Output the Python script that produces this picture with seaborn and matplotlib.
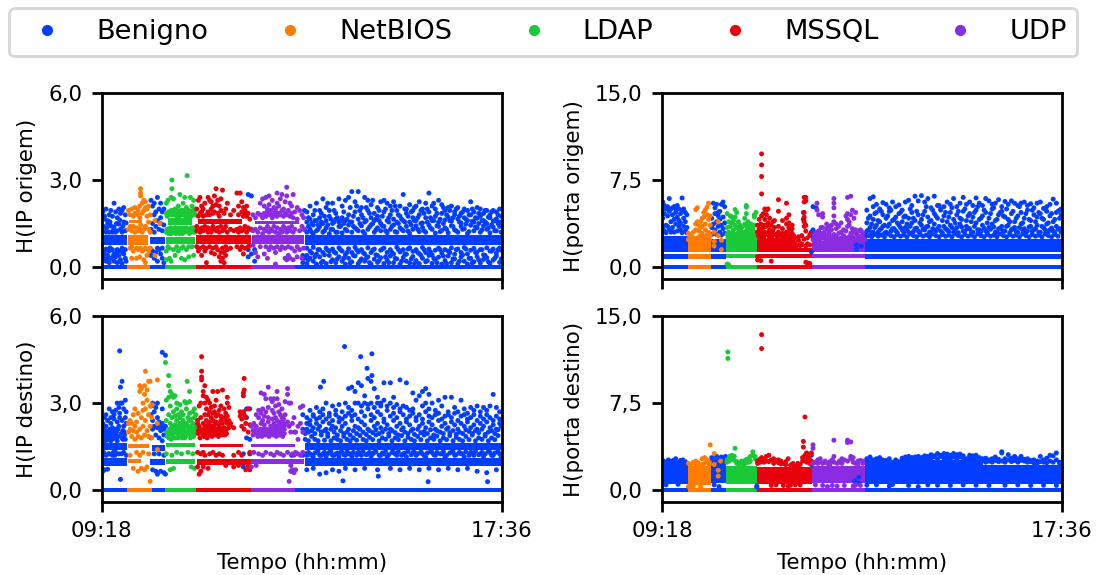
import pandas as pd
import seaborn as sns
from matplotlib import pyplot as plt
from matplotlib.lines import Line2D

classes = ['Benigno', 'NetBIOS', 'LDAP', 'MSSQL', 'UDP']
palette = dict(zip(classes, ['#023eff', '#ff7c00', '#1ac938', '#e8000b', '#8b2be2']))

xtick_vals = [0, 498]
xtick_labels = ['09:18', '17:36']
ip_ticks = [0, 3, 6]
ip_labels = ['0,0', '3,0', '6,0']
port_ticks = [0, 7.5, 15]
port_labels = ['0,0', '7,5', '15,0']

# dense rows: class, start min, end min, low, high
ipo_bands = [
    ('Benigno', 0, 31, -.06, .06), ('NetBIOS', 31, 60, -.06, .06), ('Benigno', 60, 79, -.06, .06),
    ('LDAP', 79, 117, -.06, .06), ('MSSQL', 117, 185, -.06, .06), ('UDP', 185, 240, -.06, .06),
    ('Benigno', 240, 498, -.06, .06),
    ('Benigno', 0, 31, .75, 1.1), ('NetBIOS', 32, 57, .75, 1.1), ('Benigno', 60, 79, .78, 1.05),
    ('LDAP', 80, 116, .8, 1.05), ('MSSQL', 117, 185, .8, 1.1), ('UDP', 187, 252, .8, 1.1),
    ('Benigno', 253, 498, .75, 1.1),
    ('NetBIOS', 33, 50, 1.52, 1.63), ('LDAP', 82, 112, 1.45, 1.7), ('MSSQL', 119, 174, 1.5, 1.65),
    ('UDP', 190, 245, 1.47, 1.58),
]
ipd_bands = [
    ('Benigno', 0, 31, -.06, .06), ('NetBIOS', 31, 62, -.06, .06), ('Benigno', 62, 79, -.06, .06),
    ('LDAP', 79, 117, -.06, .06), ('MSSQL', 117, 185, -.06, .06), ('UDP', 185, 240, -.06, .06),
    ('Benigno', 240, 498, -.06, .06),
    ('Benigno', 0, 31, .82, 1.1), ('NetBIOS', 32, 48, .92, 1.06), ('Benigno', 60, 79, .85, 1.08),
    ('LDAP', 80, 116, .9, 1.06), ('MSSQL', 118, 185, .87, 1.08), ('UDP', 186, 252, .9, 1.06),
    ('Benigno', 253, 498, .82, 1.1),
    ('Benigno', 0, 31, 1.4, 1.62), ('NetBIOS', 32, 58, 1.45, 1.6), ('Benigno', 62, 78, 1.35, 1.55),
    ('LDAP', 80, 116, 1.47, 1.63), ('MSSQL', 122, 176, 1.47, 1.6), ('UDP', 186, 240, 1.47, 1.58),
    ('Benigno', 253, 498, 1.38, 1.62),
]
ppo_bands = [
    ('Benigno', 0, 32, -.15, .15), ('NetBIOS', 32, 61, -.15, .15), ('Benigno', 61, 80, -.15, .15),
    ('LDAP', 80, 118, -.15, .15), ('MSSQL', 118, 187, -.15, .15), ('UDP', 187, 253, -.15, .15),
    ('Benigno', 253, 498, -.15, .15),
    ('Benigno', 0, 32, .65, 1.1), ('NetBIOS', 32, 61, .7, 1.1), ('Benigno', 61, 80, .7, 1.1),
    ('LDAP', 80, 118, .75, 1.1), ('MSSQL', 118, 187, .8, 1.1), ('UDP', 187, 253, .75, 1.1),
    ('Benigno', 253, 498, .65, 1.1),
    ('Benigno', 0, 32, 1.3, 2.7), ('NetBIOS', 32, 61, 1.3, 2.2), ('Benigno', 61, 80, 1.3, 2.4),
    ('LDAP', 80, 118, 1.3, 2.3), ('MSSQL', 118, 165, 1.3, 2.5), ('MSSQL', 165, 187, 1.3, 1.65),
    ('UDP', 187, 253, 1.3, 2.2), ('Benigno', 253, 498, 1.3, 2.45),
]
ppd_bands = [
    ('Benigno', 0, 32, -.15, .15), ('NetBIOS', 32, 61, -.15, .15), ('Benigno', 61, 80, -.15, .15),
    ('LDAP', 80, 118, -.15, .15), ('MSSQL', 118, 187, -.15, .15), ('UDP', 187, 253, -.15, .15),
    ('Benigno', 253, 498, -.15, .15),
    ('Benigno', 0, 32, .55, 2.25), ('NetBIOS', 32, 61, .45, 2.05), ('Benigno', 61, 80, .6, 2.3),
    ('LDAP', 80, 118, .55, 2.1), ('MSSQL', 118, 187, .55, 2.0), ('UDP', 187, 253, .6, 2.05),
    ('Benigno', 253, 300, .55, 2.3), ('Benigno', 300, 400, .55, 2.6), ('Benigno', 400, 498, .55, 2.2),
]

# scattered points, minute: values
ipo_ben = {
    1: [.3, 1.25, 1.9], 3: [.5, 1.65, 1.75], 5: [.2, .62, 1.2, 2.0], 7: [.4, 1.5, 1.6], 9: [.15, .55, 1.2, 1.8],
    11: [.3, 1.42, 1.95], 13: [.6, 1.2, 1.75], 15: [.2, .45, 1.38, 2.2], 17: [.35, 1.2, 1.9], 19: [.15, .6, 1.25, 1.7],
    21: [.4, 1.48, 2.0], 23: [.25, .55, 1.3, 1.85], 25: [.12, .65, 1.2, 1.95], 27: [.45, 1.55, 2.05], 29: [.3, .6, 1.25, 1.8],
    2: [1.4, .42], 6: [1.35, .28], 10: [1.55, .66], 14: [1.28, .38], 18: [1.5, .5], 22: [1.62, .2], 26: [1.4, .5], 30: [1.52, .2],
    61: [.4, .6, 1.3, 2.3], 63: [.55, 1.5, 2.1], 65: [.3, 1.2, 1.8, 2.2], 67: [.5, 1.4, 1.9], 69: [.2, .65, 1.6, 2.4],
    71: [.6, 1.3, 2.0], 73: [.45, 1.5, 1.7, 2.2], 75: [.3, .65, 1.25, 1.9], 77: [.15, 1.45, 2.0], 182: [.35, .6, 2.5],
    186: [.45, 1.3, 2.45], 190: [.6, .2], 250: [.15, .4], 252: [.3, 1.3, 1.95],
    255: [.12, .4, .65, 1.2, 1.55, 1.9], 259: [.3, .55, 1.3, 1.65, 2.1], 263: [.2, .68, 1.15, 1.45, 1.8],
    267: [.1, .45, 1.25, 1.6, 2.2], 271: [.35, .6, 1.4, 1.7, 1.95], 275: [.2, .5, 1.2, 1.5, 2.35],
    279: [.12, .65, 1.35, 1.6, 2.05], 283: [.4, .55, 1.15, 1.75, 1.95], 287: [.25, .62, 1.3, 1.5, 2.2],
    291: [.15, .48, 1.2, 1.65, 1.85], 295: [.35, .66, 1.4, 1.55, 2.35], 299: [.2, .55, 1.18, 1.7, 2.1],
    303: [.1, .42, 1.3, 1.6, 2.3], 307: [.3, .63, 1.45, 1.8, 2.4], 311: [.18, .5, 1.2, 1.55, 2.6],
    315: [.38, .68, 1.35, 1.9, 2.25], 319: [.12, .52, 1.25, 1.65, 2.6], 323: [.28, .6, 1.42, 1.8, 2.05],
    327: [.2, .45, 1.15, 1.55, 2.4], 331: [.35, .66, 1.3, 1.95, 2.3], 335: [.1, .5, 1.45, 1.7, 2.15],
    339: [.27, .62, 1.2, 1.6, 1.85], 343: [.16, .4, 1.35, 1.75, 2.05], 347: [.32, .58, 1.25, 1.5, 2.25],
    351: [.12, .65, 1.4, 1.9, 2.3], 355: [.24, .5, 1.18, 1.6, 2.2], 359: [.38, .6, 1.3, 1.8, 2.1],
    363: [.15, .45, 1.45, 1.65, 2.25], 367: [.28, .68, 1.2, 1.55, 1.95], 371: [.1, .52, 1.35, 1.75, 2.1],
    375: [.33, .6, 1.25, 1.6, 2.5], 379: [.2, .44, 1.4, 1.85, 2.0], 383: [.14, .66, 1.16, 1.55, 2.15],
    387: [.36, .54, 1.3, 1.7, 1.95], 391: [.22, .6, 1.42, 1.6, 2.1], 395: [.12, .46, 1.22, 1.8, 2.25],
    399: [.3, .67, 1.36, 1.52, 2.0], 403: [.18, .5, 1.2, 1.7, 2.2], 407: [.4, .62, 1.44, 1.9, 2.55],
    411: [.13, .42, 1.3, 1.6, 2.1], 415: [.26, .58, 1.17, 1.75, 2.0], 419: [.34, .65, 1.4, 1.55, 2.3],
    423: [.1, .48, 1.26, 1.85, 2.15], 427: [.22, .6, 1.35, 1.62, 1.95], 431: [.38, .55, 1.18, 1.72, 2.05],
    435: [.15, .66, 1.42, 1.58, 2.1], 439: [.28, .44, 1.28, 1.8, 1.9], 443: [.12, .62, 1.2, 1.65, 2.05],
    447: [.35, .5, 1.4, 1.52, 1.85], 451: [.2, .67, 1.32, 1.7, 2.0], 455: [.1, .45, 1.16, 1.6, 1.95],
    459: [.3, .58, 1.44, 1.8, 2.25], 463: [.18, .64, 1.25, 1.55, 1.9], 467: [.36, .52, 1.35, 1.68, 2.05],
    471: [.14, .6, 1.2, 1.75, 2.0], 475: [.26, .42, 1.42, 1.6, 1.85], 479: [.32, .66, 1.3, 1.5, 1.95],
    483: [.12, .55, 1.18, 1.7, 1.8], 487: [.24, .62, 1.38, 1.58, 1.95], 491: [.38, .48, 1.25, 1.66, 1.9],
    495: [.16, .65, 1.4, 1.55, 2.0], 497: [.28, .58, 1.2, 1.75],
    257: [.25, 1.4, 1.7], 261: [.48, 1.2, 1.5], 265: [.35, 1.6, 1.95], 269: [.6, 1.3, 1.45], 273: [.15, 1.55, 1.85],
    277: [.42, 1.25, 1.75], 281: [.58, 1.45, 2.2], 285: [.18, 1.3, 1.65], 289: [.52, 1.55, 1.95], 293: [.28, 1.2, 1.7],
    297: [.6, 1.4, 1.6], 301: [.3, 1.5, 1.9], 305: [.5, 1.25, 1.65], 309: [.14, 1.55, 2.05], 313: [.4, 1.4, 1.75],
    317: [.6, 1.3, 2.1], 321: [.2, 1.5, 1.95], 325: [.5, 1.22, 1.7], 329: [.3, 1.6, 2.05], 333: [.15, 1.38, 1.85],
    337: [.58, 1.5, 2.3], 341: [.42, 1.28, 1.65], 345: [.22, 1.6, 1.95], 349: [.62, 1.42, 1.75], 353: [.35, 1.25, 2.0],
    357: [.15, 1.55, 1.7], 361: [.5, 1.4, 1.95], 365: [.3, 1.22, 2.1], 369: [.6, 1.5, 1.8], 373: [.2, 1.3, 1.65],
    377: [.45, 1.55, 2.0], 381: [.62, 1.24, 1.75], 385: [.28, 1.45, 1.9], 389: [.12, 1.6, 2.05], 393: [.5, 1.3, 1.7],
    397: [.4, 1.5, 1.95], 401: [.6, 1.25, 1.85], 405: [.22, 1.55, 2.0], 409: [.52, 1.35, 1.7], 413: [.3, 1.6, 2.2],
    417: [.15, 1.42, 1.85], 421: [.6, 1.22, 1.65], 425: [.38, 1.5, 2.05], 429: [.12, 1.3, 1.8], 433: [.5, 1.6, 1.95],
    437: [.28, 1.4, 1.7], 441: [.6, 1.25, 2.0], 445: [.2, 1.55, 1.75], 449: [.42, 1.3, 1.9], 453: [.62, 1.48, 1.65],
    457: [.3, 1.22, 1.8], 461: [.14, 1.58, 2.0], 465: [.5, 1.38, 1.7], 469: [.25, 1.5, 1.85], 473: [.6, 1.28, 1.6],
    477: [.4, 1.55, 1.95], 481: [.18, 1.35, 1.72], 485: [.55, 1.45, 1.9], 489: [.3, 1.25, 1.6], 493: [.6, 1.5, 1.8],
}
ipo_net = {
    33: [1.3, 1.95], 35: [.65, 1.4, 1.8], 37: [.3, .7, 1.25, 2.0], 39: [.55, 1.4, 1.75], 41: [1.2, 1.85, 2.05],
    43: [.3, .65, 1.35], 45: [.6, 1.25, 1.8, 1.95], 47: [.35, 1.3, 1.7, 2.1], 48: [.65, 1.45, 2.45, 2.55, 2.7],
    50: [.55, 1.2, 1.85, 2.2], 52: [.25, .6, 1.3, 1.95, 2.3], 54: [.15, .65, 1.4, 2.05, 2.25], 56: [.4, 1.75, 2.0],
    58: [.55, 1.3, 1.55, 2.1], 60: [.65, 1.2, 1.8], 66: [.4, 1.6], 72: [1.5],
}
ipo_lda = {
    80: [.25, .55, 1.2, 1.85, 2.2], 82: [.7, 1.3, 1.8, 2.3], 84: [.3, .65, 1.25, 1.9], 86: [.2, 1.15, 1.35, 1.95, 2.4],
    87: [3.0, 2.7, 1.85], 89: [.6, 1.2, 1.3, 1.8, 2.35], 91: [.4, 1.35, 1.85, 2.0], 93: [.7, 1.2, 1.75, 1.95],
    95: [.55, 1.3, 1.8, 2.1], 97: [1.15, 1.35, 1.9, 2.5], 99: [.3, .65, 1.25, 1.85], 101: [.7, 1.3, 1.95, 2.2],
    103: [.25, 1.2, 1.8, 2.4], 105: [.6, 1.35, 1.9, 2.05], 106: [3.15, 1.25, 1.75], 108: [.35, .7, 1.2, 1.95],
    110: [1.3, 1.8, 2.4], 112: [.7, 1.25, 1.9, 2.1], 114: [.4, 1.35, 1.85, 2.3], 116: [1.2, 1.8, 2.0],
    81: [1.3, 1.75], 83: [1.15, 1.9], 85: [1.35, 1.8], 88: [1.2, 1.95], 90: [1.3, 1.85], 92: [1.15, 1.35], 94: [1.25, 1.85],
    96: [1.2, 1.75], 98: [1.3, 1.95], 100: [1.15, 1.8], 102: [1.35, 1.9], 104: [1.25, 1.75], 107: [1.3, 1.85], 109: [1.15, 1.9],
    111: [1.35, 1.75], 113: [1.2, 1.95], 115: [1.3, 1.85],
}
ipo_mss = {
    118: [.7, 1.25, 1.4, 2.0], 120: [.55, 1.3, 1.75, 2.3], 122: [.65, 1.2, 1.85, 2.4], 124: [.4, 1.35, 1.9, 2.1],
    126: [.7, 1.25, 1.75, 2.0], 128: [.55, 1.4, 2.2], 130: [.15, .65, 1.3, 1.8], 132: [1.2, 1.35, 1.9, 2.4],
    134: [.7, 1.3, 1.8, 2.3], 136: [.5, 1.2, 2.0, 2.25], 138: [.65, 1.4, 1.85, 2.1], 140: [.45, 1.3, 1.9, 2.45],
    142: [.7, 1.25, 2.15, 2.7], 144: [.6, 1.35, 1.85, 2.3], 146: [.35, 1.2, 1.75, 2.1], 148: [.5, .2, 1.4, 1.95, 2.35],
    150: [.3, .65, 1.25, 2.65], 152: [.15, .5, 1.3, 1.85], 154: [.4, .7, 1.4, 2.0], 156: [.6, 1.2, 2.2],
    160: [.65, 1.3, 1.8], 164: [1.25, 1.95], 168: [.7, 1.3, 2.55], 170: [1.2, 1.8, 2.1], 172: [.6, 1.35, 2.55],
    174: [.7, 1.25, 1.9, 2.25], 176: [.45, 1.3, 1.75, 2.05], 178: [.65, 1.4, 1.8, 1.95], 180: [1.2, 1.75, 2.1],
    182: [.7, 1.35, 1.85], 184: [.75, 1.3, 1.65],
}
ipo_udp = {
    188: [.75, 1.25, 1.8], 191: [.5, 1.3, 1.7], 194: [.35, 1.2, 1.85], 197: [.7, 1.35, 1.8, 2.2], 200: [1.15, 1.7, 2.35],
    202: [.45, 1.3, 1.85, 2.1], 204: [.7, 1.25, 1.75, 2.4], 206: [.3, 1.4, 1.9, 2.0], 208: [.6, 1.2, 1.8, 2.15, 2.45],
    210: [.7, 1.3, 1.95], 212: [1.25, 1.7, 1.85, 2.3], 214: [.65, 1.4, 1.8, 2.05], 216: [.1, .5, 1.2, 1.9, 2.0],
    218: [.7, 1.35, 1.75, 2.2, 2.55], 220: [1.15, 1.85, 2.1], 222: [.6, 1.3, 1.8, 2.35], 224: [.7, 1.2, 1.95, 2.5],
    226: [1.4, 1.75, 2.0], 228: [.3, .65, 1.3, 1.85, 2.25], 230: [.25, 1.2, 1.8, 2.45, 2.75], 232: [.4, .7, 1.35, 1.95],
    234: [.3, 1.25, 1.75, 2.2], 236: [.65, 1.4, 1.85, 2.1], 238: [.25, 1.2, 1.7, 2.5], 240: [.55, 1.3, 1.9],
    243: [.35, .7, 1.65, 2.05], 246: [.6, 1.25, 1.95], 249: [.3, 1.4, 1.8], 251: [.65, 1.3, 1.7],
}

ipd_ben = {
    1: [.65, 1.2, 1.8, 2.3], 3: [.7, 1.7, 2.1, 2.5], 5: [1.2, 2.2, 2.6], 7: [.72, 1.75, 2.4], 9: [1.25, 2.05, 2.8],
    11: [1.7, 2.3, 2.5], 13: [1.2, 2.15, 2.7], 15: [1.8, 2.45, 2.6], 17: [1.3, 2.1, 2.75], 19: [1.7, 2.35, 3.0],
    21: [1.25, 2.2, 2.85], 22: [4.8, 2.5, 2.65], 23: [3.55, .37, 3.0], 25: [3.75, 1.8, 2.4, 3.0], 27: [1.3, 2.2, 2.8],
    29: [1.75, 2.5, 3.1], 30: [1.2, 2.3, 2.7], 2: [1.95, 1.3], 4: [1.8, 2.0], 6: [1.9, 1.72], 8: [2.0, 1.25], 10: [1.85, 2.1], 12: [1.75, 1.95],
    14: [2.05, 1.3], 16: [1.9, 1.2], 18: [2.0, 1.75], 20: [1.85, 2.1], 24: [1.95, 1.25], 26: [2.05, 1.75], 28: [1.9, 2.0],
    61: [1.8, 2.6, 2.9], 63: [.7, 2.1, 2.4, 3.0], 65: [1.25, 2.7, 2.2], 67: [.65, 1.9, 2.85], 69: [.55, 2.15, 2.5, 3.0],
    71: [1.25, 1.8, 2.35], 73: [.65, 2.2, 2.05], 75: [4.75, 1.7, 2.3, 2.8], 77: [.6, 1.2, 2.1, 1.9], 79: [4.65, .55, 2.2],
    176: [.8, 1.25], 180: [1.8, 2.8, 2.5], 184: [1.25, 1.75, 2.8], 236: [1.2, .65], 240: [2.0, 1.25], 250: [2.1, 2.6, 1.2],
    272: [3.55], 276: [3.75], 302: [4.95], 317: [4.35, 4.2, 3.85], 322: [4.6], 330: [4.2], 336: [4.7, 3.95], 339: [5.7],
    344: [.48], 397: [4.75, 4.0], 300: [.32], 406: [.29], 480: [.29],
    255: [.7, 1.2, 2.1, 2.3, 2.5], 259: [1.25, 2.25, 2.4, 2.75], 263: [.75, 1.15, 2.15, 2.55, 2.6], 267: [1.3, 2.3, 2.45, 2.85],
    271: [.55, 1.2, 2.2, 2.5, 2.7], 275: [1.25, 2.35, 2.6, 2.8], 279: [.6, 1.15, 2.1, 2.45, 3.0], 283: [1.3, 2.3, 2.55, 2.65],
    287: [.7, 1.2, 2.2, 2.4, 2.9], 291: [1.25, 2.15, 2.6, 2.75], 295: [.65, 1.15, 2.35, 2.5, 2.95], 299: [1.3, 2.2, 2.45, 2.7],
    303: [.75, 1.2, 2.3, 2.55, 3.0], 307: [1.25, 2.1, 2.65, 2.85, 3.5], 311: [1.15, 2.4, 2.55, 2.75, 3.55], 315: [.7, 2.2, 2.6, 3.0, 3.4],
    319: [1.3, 2.15, 2.45, 3.0, 3.7], 323: [1.2, 2.35, 2.7, 2.9, 3.6], 327: [.75, 2.25, 2.55, 3.0, 3.25], 331: [1.25, 2.1, 2.8, 2.95, 3.85],
    335: [1.15, 2.4, 2.6, 3.0, 3.75], 339: [1.3, 2.2, 2.5, 2.85, 3.5], 343: [.7, 2.3, 2.7, 3.0, 3.2], 347: [1.2, 2.15, 2.6, 2.9, 3.0],
    351: [1.25, 2.35, 2.45, 3.1, 3.7], 355: [1.15, 2.25, 2.75, 2.9], 359: [.75, 2.1, 2.55, 3.0, 3.7], 363: [1.3, 2.4, 2.65, 2.85, 3.2],
    367: [1.2, 2.2, 2.5, 2.95], 371: [.7, 2.3, 2.7, 2.8, 3.8], 375: [1.25, 2.15, 2.6, 2.9], 379: [1.15, 2.35, 2.45, 2.85, 3.7],
    383: [.75, 2.25, 2.55, 2.75], 387: [1.3, 2.1, 2.65, 2.8, 3.35], 391: [1.2, 2.4, 2.5, 3.1], 395: [.7, 2.2, 2.6, 3.25],
    399: [1.25, 2.3, 2.45, 2.9, 3.4], 403: [1.15, 2.15, 2.7, 3.0, 3.5], 407: [.75, 2.35, 2.55, 2.8, 3.3], 411: [1.3, 2.25, 2.5, 3.0],
    415: [1.2, 2.1, 2.6, 2.75], 419: [.7, 2.4, 2.65, 3.1], 423: [1.25, 2.2, 2.45, 2.9], 427: [1.15, 2.3, 2.55, 3.2],
    431: [.75, 2.15, 2.6, 2.7], 435: [1.3, 2.35, 2.5, 3.2], 439: [1.2, 2.25, 2.65, 2.85], 443: [.7, 2.1, 2.4, 2.7],
    447: [1.25, 2.3, 2.55, 3.1], 451: [1.15, 2.2, 2.6, 2.8], 455: [.75, 2.35, 2.45, 2.65], 459: [1.3, 2.15, 2.5, 2.85],
    463: [1.2, 2.25, 2.6, 2.75], 467: [.65, 2.1, 2.4, 2.9], 471: [1.25, 2.3, 2.55, 2.7], 475: [1.15, 2.2, 2.45, 2.85],
    479: [.6, 2.35, 2.6, 2.75], 483: [1.3, 2.15, 2.5, 2.9], 487: [1.2, 2.25, 2.4, 3.3], 491: [.7, 2.1, 2.55, 2.85],
    495: [1.25, 2.3, 2.45, 2.7], 497: [1.15, 2.2, 2.4],
    253: [1.75, 1.95, 1.25], 257: [1.7, 2.0, 1.3], 261: [1.85, 2.05, 1.2], 265: [1.75, 1.95, 1.28], 269: [1.7, 2.1, 1.33],
    273: [1.9, 2.0, 1.2], 277: [1.72, 2.05, 1.3], 281: [1.85, 1.95, 1.25], 285: [1.7, 2.1, 1.32], 289: [1.8, 2.0, 1.2],
    293: [1.75, 1.9, 1.28], 297: [1.7, 2.05, 1.3], 301: [1.85, 1.95, 1.22], 305: [1.75, 2.0, 1.33], 309: [1.7, 1.9, 1.25],
    313: [1.8, 2.05, 1.3], 317: [1.72, 1.95, 1.2], 321: [1.88, 2.1, 1.28], 325: [1.75, 2.0, 1.33], 329: [1.7, 1.92, 1.22],
    333: [1.82, 2.05, 1.3], 337: [1.74, 1.98, 1.25], 341: [1.9, 2.08, 1.32], 345: [1.7, 1.95, 1.2], 349: [1.8, 2.0, 1.28],
    353: [1.75, 2.1, 1.33], 357: [1.86, 1.95, 1.22], 361: [1.7, 2.05, 1.3], 365: [1.8, 1.98, 1.25], 369: [1.74, 1.9, 1.32],
    373: [1.88, 2.08, 1.2], 377: [1.7, 2.0, 1.28], 381: [1.82, 1.95, 1.33], 385: [1.75, 2.05, 1.22], 389: [1.7, 1.92, 1.3],
    393: [1.85, 2.1, 1.25], 397: [1.74, 1.98, 1.32], 401: [1.9, 2.02, 1.2], 405: [1.7, 1.95, 1.28], 409: [1.8, 2.08, 1.33],
    413: [1.75, 1.9, 1.22], 417: [1.86, 2.05, 1.3], 421: [1.7, 2.0, 1.25], 425: [1.8, 1.95, 1.32], 429: [1.74, 2.1, 1.2],
    433: [1.88, 1.98, 1.28], 437: [1.7, 2.05, 1.33], 441: [1.82, 1.92, 1.22], 445: [1.75, 2.0, 1.3], 449: [1.7, 1.95, 1.25],
    453: [1.85, 2.08, 1.32], 457: [1.74, 2.02, 1.2], 461: [1.9, 1.95, 1.28], 465: [1.7, 2.05, 1.33], 469: [1.8, 1.98, 1.22],
    473: [1.75, 2.1, 1.3], 477: [1.86, 1.92, 1.25], 481: [1.7, 2.0, 1.32], 485: [1.8, 2.05, 1.2], 489: [1.74, 1.95, 1.28],
    493: [1.88, 2.08, 1.33],
}
ipd_net = {
    33: [2.0, 2.3], 35: [1.2, 2.1, 2.4], 37: [1.85, 2.3], 39: [.75, 2.05, 2.6], 41: [1.75, 2.2, 2.8], 43: [1.3, 2.0, 2.35],
    45: [.65, 1.85, 2.65], 47: [1.2, 2.1, 3.4, 3.6], 49: [.75, 1.8, 2.5, 3.5], 51: [1.3, 2.2, 2.75, 3.0], 53: [.7, 1.9, 3.3, 3.6],
    54: [4.1, 2.4, 2.8], 56: [.8, 2.05, 3.1, 3.45], 58: [1.25, 1.85, 2.6, 3.75], 60: [.3, 2.2, 2.9, 3.75], 62: [1.8, 2.5, 2.95],
    69: [3.8, 2.3, 1.4],
}
ipd_lda = {
    80: [1.25, 2.4, 3.1], 79: [4.4], 83: [3.95, 1.8, 2.6, 3.6, 3.2], 85: [.7, 2.3, 2.9, 3.4], 87: [1.2, 2.2, 2.5, 3.3],
    89: [.75, 1.8, 2.7, 3.2], 91: [2.25, 2.55, 3.25], 93: [1.3, 2.4, 2.8, 3.0], 95: [1.8, 2.2, 2.6], 97: [2.3, 2.5, 2.95],
    99: [1.25, 2.15, 2.7], 101: [2.4, 2.6, 2.3], 103: [1.8, 2.2, 3.05], 105: [2.3, 2.8, 3.0], 106: [3.75], 107: [1.3, 2.5, 2.2],
    109: [3.4, 2.4, 3.05, 2.65], 111: [.8, 2.2, 2.45], 113: [1.25, 2.3, 2.7], 115: [.75, 2.5, 2.8], 117: [2.2, 2.6],
    81: [1.85, 2.0], 84: [1.95, 2.1], 86: [1.75, 2.05], 88: [1.9, 2.1], 90: [2.0, 2.15], 92: [1.8, 2.05], 94: [1.95, 2.1], 96: [1.85, 2.0],
    98: [1.95, 2.15], 100: [1.8, 2.05], 102: [1.9, 2.1], 104: [2.0, 1.85], 108: [1.95, 2.1], 110: [1.8, 2.05], 112: [1.9, 2.1], 114: [1.85, 2.0], 116: [1.95, 2.1],
}
ipd_mss = {
    119: [.8, 1.3, 2.3, 2.4], 121: [.55, 2.2, 2.9], 123: [.65, 1.25, 2.5, 3.0], 124: [4.6, 4.1, 3.9, 3.8], 126: [.8, 1.3, 2.3, 3.4, 3.25],
    128: [1.2, 2.2, 2.6, 3.6, 3.0], 130: [2.4, 2.8, 3.2], 132: [.75, 2.25, 2.6, 3.1], 134: [1.25, 2.35, 2.7, 3.0], 136: [2.2, 2.5, 2.85],
    138: [1.3, 2.4, 2.65, 3.4], 140: [2.25, 2.7, 2.9], 142: [1.2, 2.35, 2.55, 3.1], 144: [2.3, 2.6, 3.4], 146: [1.25, 2.2, 2.75],
    148: [2.4, 2.55, 2.9], 150: [1.2, 2.3, 3.45], 152: [2.15, 2.5, 2.8], 154: [.85, 2.4, 2.65], 156: [2.3, 2.55, 3.2, 3.0],
    158: [2.15, 2.4, 2.85], 160: [2.3, 2.2], 164: [.8, 2.15, 1.2], 170: [.85, 1.3], 172: [2.7, 2.55], 174: [1.2, 2.2, 2.45],
    176: [2.7, 3.35, 3.25], 177: [3.85, 3.45, 2.1, 2.6], 179: [.7, 2.3, 2.5], 182: [.75, .85, 2.8, 2.0], 184: [.7, 2.25, 1.3],
    120: [1.95, 2.05], 122: [1.8, 2.1], 125: [1.95, 2.0], 127: [1.85, 2.1], 129: [1.95, 2.05], 131: [1.8, 2.1], 133: [1.9, 2.05], 135: [1.95, 2.1],
    137: [1.85, 2.0], 139: [1.95, 2.1], 141: [1.9, 2.05], 143: [1.95, 2.1], 145: [1.85, 2.0], 147: [1.95, 2.05], 149: [1.9, 2.1], 151: [1.95, 2.0], 153: [1.9, 2.05], 155: [1.95, 2.1],
}
ipd_udp = {
    186: [.8, 2.2], 189: [1.3, 2.3], 192: [.85, 2.6, 2.2], 195: [1.25, 2.5, 2.75], 198: [3.35, 2.3, 2.65], 200: [1.2, 2.8, 2.4],
    202: [3.3, 2.25, 2.55], 204: [1.3, 2.7, 3.15], 207: [3.55, 2.35, 2.5, 2.85], 210: [1.25, 2.2, 3.15], 212: [2.45, 2.75, 3.05],
    214: [1.2, 2.3, 2.65, 3.15], 216: [2.2, 2.5, 2.9], 218: [3.4, 1.3, 2.4, 3.15], 220: [2.25, 2.7, 2.95], 222: [1.25, 2.35, 2.6],
    224: [2.2, 2.5, 2.8], 226: [1.2, 2.3, 2.45], 228: [2.25, 3.05, 2.6], 231: [3.5, 3.3, 1.3, 2.35], 233: [.3, 2.2, 3.0], 235: [.65, .85, 2.0, 3.0],
    237: [.7, 1.25, 2.3], 239: [1.2, .6, 2.5], 241: [.7, 1.3, 2.0], 244: [1.25, 2.2, 1.75], 247: [1.2, 2.3, 2.85], 250: [1.3, 2.0, 2.9],
    188: [1.9, 2.05], 191: [1.95, 2.1], 194: [1.85, 2.0], 197: [1.95, 2.1], 199: [1.85, 2.05], 201: [1.95, 2.1], 203: [1.9, 2.0], 205: [1.95, 2.1],
    208: [1.85, 2.05], 211: [1.95, 2.1], 213: [1.9, 2.0], 215: [1.95, 2.1], 217: [1.85, 2.05], 219: [1.95, 2.1], 221: [1.9, 2.0], 223: [1.95, 2.1], 225: [1.85, 2.05], 227: [1.95, 2.1],
}

ppo_ben = {
    1: [5.6, 4.2, 3.3], 3: [4.6, 5.3, 3.1], 5: [3.6, 5.0, 2.95], 7: [4.4, 5.2, 3.5], 9: [3.2, 4.8, 5.9], 11: [3.9, 5.0, 3.0],
    13: [4.5, 3.4, 5.1], 15: [3.0, 4.1, 5.2], 17: [3.7, 4.7, 5.0], 19: [3.1, 4.3, 5.3], 21: [3.5, 4.0, 5.0], 23: [3.2, 4.6, 3.8],
    25: [2.95, 4.9, 5.95], 27: [3.5, 4.2, 5.0], 29: [3.1, 3.9, 4.7], 31: [3.4, 4.5, 2.95], 62: [3.4, 4.2, 2.8], 64: [2.9, 3.7, 5.5],
    66: [3.2, 4.6, 5.1], 68: [2.8, 3.9, 5.4], 70: [3.5, 4.4, 4.7], 72: [3.0, 4.1, 4.8], 74: [2.75, 3.6, 5.4], 76: [3.3, 4.3, 5.6],
    78: [2.9, 3.8, 5.2], 176: [4.7, 4.1], 186: [3.0, 2.7, 1.3], 188: [5.2, 3.2], 192: [5.1, 2.9], 242: [2.9, 1.5, 1.9], 248: [3.1, 1.8],
    255: [3.1, 3.8, 4.9], 259: [3.4, 4.4, 5.9], 263: [3.0, 4.1, 5.2, 6.05], 267: [3.6, 4.7, 5.4], 271: [3.2, 3.9, 5.0], 275: [3.5, 4.5, 5.55],
    279: [3.0, 4.2, 5.4], 283: [3.7, 4.8, 5.1], 287: [3.3, 4.0, 5.6], 291: [3.1, 4.3, 5.2], 295: [3.6, 4.6, 5.35], 299: [3.2, 3.9, 4.9],
    303: [3.4, 4.4, 5.6], 307: [3.0, 4.2, 5.75], 311: [3.8, 4.7, 5.3], 315: [3.3, 4.0, 6.1], 319: [3.1, 4.5, 5.7], 323: [3.6, 4.1, 6.15],
    327: [3.2, 4.8, 5.6], 331: [3.5, 4.3, 5.9], 335: [3.0, 4.0, 5.1], 339: [3.7, 4.6, 6.1], 343: [3.3, 4.2, 5.3], 347: [3.1, 4.9, 5.0],
    351: [3.5, 4.4, 5.2], 355: [3.2, 3.9, 5.6], 359: [3.6, 4.7, 5.4], 363: [3.0, 4.1, 5.9], 367: [3.4, 4.5, 5.2], 371: [3.7, 4.2, 5.5],
    375: [3.1, 4.8, 6.0], 379: [3.5, 4.0, 5.4], 383: [3.3, 4.6, 5.6], 387: [3.0, 4.3, 5.3], 391: [3.8, 4.9, 5.95], 395: [3.2, 4.1, 5.5],
    399: [3.6, 4.4, 5.3], 403: [3.1, 4.7, 5.9], 407: [3.4, 4.2, 5.7], 411: [3.7, 5.0, 5.4], 415: [3.0, 4.0, 5.5], 419: [3.3, 4.5, 5.8],
    423: [3.5, 4.8, 5.2], 427: [3.1, 4.3, 5.65], 431: [3.6, 4.1, 5.4], 435: [3.2, 4.6, 5.7], 439: [3.4, 3.9, 5.5], 443: [3.0, 4.4, 5.3],
    447: [3.7, 4.7, 5.5], 451: [3.3, 4.2, 5.6], 455: [3.1, 4.9, 5.3], 459: [3.5, 4.0, 5.45], 463: [3.2, 4.5, 5.1], 467: [3.6, 4.3, 5.5],
    471: [3.0, 4.6, 5.6], 475: [3.4, 4.1, 5.05], 479: [3.7, 4.8, 5.2], 483: [3.2, 4.4, 5.4], 487: [3.1, 3.9, 5.85], 491: [3.5, 4.7, 5.5],
    495: [3.3, 4.2, 4.9], 497: [3.0, 4.5, 5.0],
    253: [2.6, 2.85], 257: [2.7, 3.2, 4.2], 261: [2.6, 2.95, 3.7], 265: [2.8, 3.4, 4.6], 269: [2.65, 3.0, 4.0], 273: [2.75, 3.3, 4.8],
    277: [2.6, 2.9, 3.6], 281: [2.85, 3.5, 4.4], 285: [2.7, 3.1, 4.9], 289: [2.6, 3.3, 4.1], 293: [2.8, 2.95, 3.8], 297: [2.65, 3.4, 4.7],
    301: [2.75, 3.0, 4.3], 305: [2.6, 3.2, 3.7], 309: [2.85, 3.5, 5.0], 313: [2.7, 3.05, 4.2], 317: [2.6, 3.35, 4.8], 321: [2.8, 2.95, 3.8],
    325: [2.65, 3.25, 4.5], 329: [2.75, 3.45, 5.2], 333: [2.6, 3.0, 3.9], 337: [2.85, 3.3, 4.9], 341: [2.7, 3.1, 4.4], 345: [2.6, 3.5, 5.3],
    349: [2.8, 2.95, 4.0], 353: [2.65, 3.3, 4.7], 357: [2.75, 3.05, 4.3], 361: [2.6, 3.4, 5.1], 365: [2.85, 3.2, 3.8], 369: [2.7, 2.95, 4.8],
    373: [2.6, 3.45, 4.1], 377: [2.8, 3.1, 5.0], 381: [2.65, 3.3, 4.4], 385: [2.75, 3.0, 3.9], 389: [2.6, 3.5, 4.7], 393: [2.85, 3.2, 5.2],
    397: [2.7, 3.05, 4.2], 401: [2.6, 3.35, 4.9], 405: [2.8, 2.95, 3.8], 409: [2.65, 3.25, 4.6], 413: [2.75, 3.45, 5.1], 417: [2.6, 3.0, 4.1],
    421: [2.85, 3.3, 4.7], 425: [2.7, 3.1, 4.4], 429: [2.6, 3.5, 5.0], 433: [2.8, 2.95, 3.9], 437: [2.65, 3.3, 4.8], 441: [2.75, 3.05, 4.2],
    445: [2.6, 3.4, 5.2], 449: [2.85, 3.2, 3.8], 453: [2.7, 2.95, 4.6], 457: [2.6, 3.45, 4.1], 461: [2.8, 3.1, 4.9], 465: [2.65, 3.3, 3.9],
    469: [2.75, 3.0, 4.7], 473: [2.6, 3.5, 4.2], 477: [2.85, 3.2, 5.0], 481: [2.7, 3.05, 3.8], 485: [2.6, 3.35, 4.6], 489: [2.8, 2.95, 4.1],
    493: [2.65, 3.25, 4.8],
}
ppo_net = {
    33: [2.35, 2.9], 36: [2.3, 2.75], 39: [2.4, 3.0], 42: [2.35, 3.7, 3.2, 4.95], 44: [2.5, 3.9, 5.1], 46: [2.4, 3.1, 3.6],
    48: [2.35, 3.4, 3.9], 50: [2.9, 4.2, 3.5], 52: [2.6, 4.3, 4.7], 54: [3.2, 3.7, 4.9], 56: [2.8, 4.5, 5.15], 58: [3.0, 4.1, 5.5],
    60: [2.7, 4.4, 3.6], 65: [2.2, 1.8, 3.0], 70: [2.7, 3.9], 74: [1.5, 2.3], 34: [2.5], 38: [2.55], 41: [2.45], 47: [2.65], 51: [2.4], 55: [2.45], 59: [2.35],
}
ppo_lda = {
    81: [2.8, 3.4, 4.6, .25], 83: [3.0, 3.9, .2], 85: [2.7, 4.4, 3.5], 87: [2.9, 3.8, 4.3], 89: [3.2, 4.0], 91: [2.8, 3.6, 4.3, 4.95],
    93: [2.6, 3.4, 4.7], 95: [3.0, 3.9], 97: [2.7, 3.2, 3.6], 99: [2.9, 3.4], 101: [2.6, 3.0], 103: [2.8, 3.7, 4.2], 105: [3.1, 3.5, 4.6, 5.3, 5.15],
    107: [2.7, 3.4, 3.9], 109: [2.9, 3.6, 3.2], 111: [2.6, 3.1, 3.7], 113: [2.8, 3.3], 115: [2.6, 3.6, 4.5, 4.3], 117: [2.7, 3.0, 4.7],
    82: [2.45], 84: [2.5], 86: [2.4], 88: [2.55], 90: [2.45], 92: [2.5], 94: [2.4], 96: [2.5], 98: [2.45], 100: [2.55], 102: [2.4], 104: [2.5], 106: [2.45], 108: [2.55], 110: [2.4], 112: [2.5], 114: [2.45], 116: [2.4],
}
ppo_mss = {
    119: [3.0, 3.6, .9, .6], 121: [3.3, 4.1, 2.95], 123: [3.7, 3.1, .55], 124: [9.75, 8.8, 7.8, 6.3, 4.4], 126: [3.4, 4.6, 2.9], 128: [3.0, 4.1, 5.0, 3.6],
    130: [3.5, 4.5, 4.9], 132: [2.95, 3.8, 5.0], 134: [3.2, 4.2, 3.6], 136: [3.6, .5, 3.0], 138: [3.1, 3.9, 2.85], 140: [3.4, 4.0],
    145: [3.0, 3.5, 5.8, 4.8], 150: [2.9, 3.3, 4.0], 155: [3.0, 3.7, 5.5, 4.2], 158: [3.4, 3.1, 3.8, 4.5], 162: [2.9, 3.6, 3.3],
    165: [2.1, 2.5], 170: [1.9, 2.6, 2.3], 174: [2.0, 2.7, 1.9], 177: [2.4, 4.7, 4.3, 3.9, 3.5, 5.6, 6.0], 179: [.4, 1.8, 3.1, 3.6, 6.0, 5.7], 181: [.35, 2.0, 2.5], 184: [.3, 1.9, 2.8],
    120: [2.7], 122: [2.6], 125: [2.75], 127: [2.65], 129: [2.8], 133: [2.7], 137: [2.65], 141: [2.8], 143: [2.65], 147: [2.75], 149: [2.6], 152: [2.7], 154: [2.65], 157: [2.7], 160: [2.6], 164: [2.7], 167: [1.8], 172: [1.85],
}
ppo_udp = {
    190: [2.5, 2.8], 193: [2.7, 3.0, 4.9, 5.5], 195: [2.6, 3.1, 4.5], 198: [2.5, 2.9, 3.4], 200: [2.8, 3.4, 4.3, 4.6], 202: [2.6, 3.0],
    205: [3.3, 2.7, 3.7], 208: [2.9, 3.5, 3.1], 211: [2.6, 3.6, 3.2], 214: [5.9, 5.5, 5.1, 4.4, 2.8, 3.9], 217: [2.6, 3.3, 3.7], 220: [2.9, 3.5],
    223: [2.5, 3.0, 3.8], 226: [2.7, 3.2], 229: [2.5, 3.1, 4.4], 231: [6.0, 4.6, 3.5, 4.1], 233: [2.6, 3.6, 3.9], 235: [6.1, 2.9, 4.5], 237: [2.6, 3.3, 4.9], 239: [2.5, 3.0, 4.2],
    241: [3.2, 4.7, 2.5], 244: [2.7, 3.1], 247: [2.6, 3.2], 250: [2.5, 2.9],
    188: [2.35], 192: [2.4], 197: [2.35], 203: [2.4], 207: [2.35], 210: [2.45], 213: [2.35], 216: [2.4], 219: [2.35], 222: [2.45], 225: [2.35], 228: [2.4], 232: [2.35], 236: [2.4], 240: [2.35], 243: [2.4], 246: [2.35], 249: [2.4], 252: [2.35],
}

ppd_ben = {
    2: [2.4, 2.5], 5: [2.35, .45], 8: [2.6, 2.3], 11: [2.45], 14: [2.3, 2.55], 17: [2.7, 2.4], 20: [2.35, .5], 23: [2.55, 2.4], 26: [2.3, 2.6], 29: [2.45],
    62: [2.5, 2.8], 65: [.45, 2.4], 68: [2.9, 2.6, 2.7], 71: [2.5, .3], 74: [2.85, 2.4], 77: [2.7], 79: [2.9, 2.45], 118: [.25, .35], 186: [3.0, 2.2], 240: [.8, .4], 245: [1.1, .6],
    255: [2.5, 2.7, .42], 259: [2.45, 2.85], 263: [2.6, 2.4], 267: [2.7, 2.5, .45], 271: [2.45, 2.8], 275: [2.6, 2.4], 279: [2.55], 283: [2.7, 2.45, .35], 287: [2.4, .48], 291: [2.6, 2.5],
    295: [2.45], 299: [2.75, 2.5], 303: [2.7, 2.85], 307: [2.9, 2.75, .4], 311: [2.8, 2.65], 315: [2.85, 2.7], 319: [2.7, 2.9, .3], 323: [2.8, 2.65], 327: [2.75, 2.95], 331: [2.7, 2.9, .45],
    335: [3.05, 2.75], 339: [2.85, 2.95], 343: [2.7, 3.15, .42], 347: [2.9, 3.0], 351: [3.15, 2.75], 355: [3.1, 2.8], 359: [2.7, 3.0, .4], 363: [3.15, 2.85], 367: [3.05, 2.7], 371: [2.85, 3.1],
    375: [2.75, 2.95, .45], 379: [2.7, 2.6], 383: [3.0, 2.8], 387: [2.7, 2.95], 391: [3.0, 2.75, .42], 395: [2.8, 2.6], 399: [2.7, 2.55], 403: [2.4, 2.75], 407: [2.5, 2.6, .4], 411: [2.7, 2.4],
    415: [2.55, 2.85], 419: [2.45, 2.65], 423: [3.3, 3.2, 2.5], 427: [2.4, 2.7, .42], 431: [3.05, 2.6], 435: [2.45, 2.75], 439: [2.55, 2.9], 443: [2.4, 2.7, .45], 447: [2.9, 2.55], 451: [2.5, 2.65],
    455: [2.4, 2.7], 459: [2.55, 2.45, .4], 463: [2.35, 2.6], 467: [2.5, 2.3], 471: [2.9, 2.45], 475: [2.4, 2.6, .42], 479: [2.75, 2.35], 483: [3.0, 2.5], 487: [2.95, 2.4], 491: [3.2, 2.6, .4], 495: [2.4, 2.3], 497: [2.25],
}
ppd_net = {
    33: [2.3, .3], 36: [2.2, .35], 39: [2.4, .3], 42: [2.25, 2.5], 45: [2.1, 2.35], 48: [2.15, .3], 50: [2.2, 2.7], 53: [2.8, 2.3], 56: [2.5, 2.6], 59: [2.2, 2.4], 60: [3.9], 65: [3.15, 2.2], 70: [1.7, 1.2], 73: [2.5],
}
ppd_lda = {
    81: [2.4, 2.6], 84: [2.9, 2.5], 87: [2.8, 3.0], 90: [2.55, 2.9], 82: [11.9, 11.35], 91: [3.6], 93: [2.3, 2.45], 96: [2.25, 2.4], 99: [2.3, 2.5], 102: [2.5, 2.2], 105: [2.65, 2.35], 108: [2.7, 2.4], 110: [2.9, 2.5], 113: [3.3, 3.0], 116: [2.7, 2.9],
}
ppd_mss = {
    119: [2.5, 2.3], 122: [2.4, 2.65], 124: [13.4, 12.2, 2.8], 127: [2.6, 2.4], 130: [2.9, 2.5], 133: [2.45, 3.0], 136: [2.6, .4], 139: [2.3, 2.7], 142: [2.55, .45], 145: [2.35, 2.6], 148: [2.25, 2.5],
    151: [.4, 2.3], 154: [2.2, 2.45], 157: [.35, 2.7], 160: [2.15, .42], 163: [2.3, 2.2], 166: [.45, 2.1], 169: [2.15, 2.3], 172: [.45, 2.2], 175: [2.5, 2.8], 176: [4.2, 3.7], 178: [6.3, 3.0, 2.6], 180: [3.2, 2.4], 182: [2.6, 2.9], 184: [2.3, 2.6], 186: [3.2, 2.5],
}
ppd_udp = {
    188: [3.9, 3.6, 2.3], 191: [2.4, .45], 194: [2.6, 2.3], 197: [2.5, 2.7], 200: [2.3, .4], 203: [2.5, 2.4], 206: [2.3, .3], 209: [2.45, 2.2], 212: [2.6, .4], 214: [4.3, 2.9, 2.4], 218: [2.3, .35], 221: [2.5, 2.4],
    224: [2.7, 2.3], 227: [2.6, .4], 231: [4.3, 4.1, 2.5], 235: [4.15, 2.9, 2.7], 238: [2.8, 2.4, .35], 241: [2.3, .45], 244: [2.5, 2.2], 247: [2.55, .4], 250: [2.3, 2.5],
}


def to_frame(cols, name):
    rows = [(t, h, name) for t, vals in cols.items() for h in vals]
    return pd.DataFrame(rows, columns=['tempo', 'H', 'classe'])


panels = [
    ('H(IP origem)', ipo_bands, [ipo_ben, ipo_net, ipo_lda, ipo_mss, ipo_udp], ip_ticks, ip_labels, (-.41, 6)),
    ('H(porta origem)', ppo_bands, [ppo_ben, ppo_net, ppo_lda, ppo_mss, ppo_udp], port_ticks, port_labels, (-1.03, 15)),
    ('H(IP destino)', ipd_bands, [ipd_ben, ipd_net, ipd_lda, ipd_mss, ipd_udp], ip_ticks, ip_labels, (-.41, 6)),
    ('H(porta destino)', ppd_bands, [ppd_ben, ppd_net, ppd_lda, ppd_mss, ppd_udp], port_ticks, port_labels, (-1.03, 15)),
]

sns.set_style('ticks', {'text.color': 'black', 'axes.labelcolor': 'black', 'axes.edgecolor': 'black',
                        'xtick.color': 'black', 'ytick.color': 'black'})
plt.rcParams['axes.linewidth'] = 1.0
plt.rcParams['xtick.major.width'] = 1.0
plt.rcParams['ytick.major.width'] = 1.0

fig, axes = plt.subplots(2, 2, figsize=(5.5, 2.875), dpi=200)
fig.subplots_adjust(left=102 / 1100, right=1062 / 1100, top=1 - 93 / 575, bottom=1 - 502 / 575, wspace=.4, hspace=.2)

for ax, (label, bands, clouds, ticks, tick_labels, ylim) in zip(axes.flat, panels):
    for cls, start, end, lo, hi in bands:
        ax.fill_between([start, end], lo, hi, color=palette[cls], linewidth=0, zorder=1)
    df = pd.concat([to_frame(c, n) for c, n in zip(clouds, classes)])
    sns.scatterplot(data=df, x='tempo', y='H', hue='classe', palette=palette, s=3.2, linewidth=0, legend=False, ax=ax, zorder=2)
    ax.set_xlim(0, 498)
    ax.set_ylim(*ylim)
    ax.set_xticks(xtick_vals)
    ax.set_yticks(ticks)
    ax.set_yticklabels(tick_labels)
    ax.set_ylabel(label, fontsize=7.7)
    ax.tick_params(labelsize=7.7)
    if ax in axes[1]:
        ax.set_xticklabels(xtick_labels)
        ax.set_xlabel('Tempo (hh:mm)', fontsize=7.7)
    else:
        ax.set_xticklabels([])
        ax.set_xlabel('')

handles = [Line2D([], [], marker='o', linestyle='', markersize=4, markeredgewidth=0, color=palette[c]) for c in classes]
fig.legend(handles, classes, loc='upper center', bbox_to_anchor=(.494, .995), ncol=5, fontsize=9.8,
           handletextpad=.8, columnspacing=2, borderaxespad=.2)

fig.savefig('out.png', dpi=200)
